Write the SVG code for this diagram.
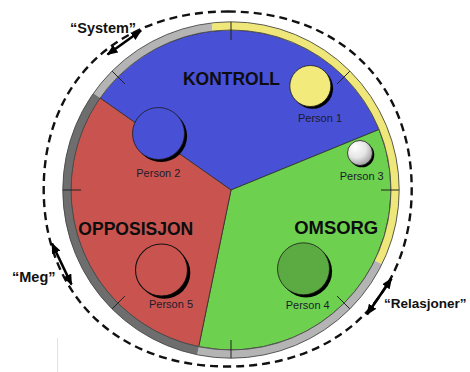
<svg xmlns="http://www.w3.org/2000/svg" width="470" height="372" viewBox="0 0 470 372">
  <defs>
    <style>
      .sector { stroke:#2b2b2b; stroke-width:0.8; stroke-linejoin:round; }
      .ring { fill:none; stroke-width:8.4; }
      .ring-edge { fill:none; stroke:#4a4a4a; stroke-width:0.9; }
      .tick { stroke:#222; stroke-width:1; }
      .shadow { fill:#000; }
      .person { stroke:#1a1a1a; stroke-width:0.8; }
      .sec-label { font-family:"Liberation Sans", Arial, sans-serif; font-weight:bold; font-size:18.5px; fill:#0d0d0d; text-anchor:middle; }
      .p-label { font-family:"Liberation Sans", Arial, sans-serif; font-size:11px; fill:#1b1b2b; text-anchor:middle; }
      .out-label { font-family:"Liberation Sans", Arial, sans-serif; font-weight:bold; font-size:14.5px; fill:#111; }
      .dashed { fill:none; stroke:#111; stroke-width:2.4; stroke-dasharray:8 5; }
      .arrow { fill:none; stroke:#000; stroke-width:2.6; marker-start:url(#head); marker-end:url(#head); }
    </style>
    <marker id="head" markerUnits="userSpaceOnUse" markerWidth="11" markerHeight="9" viewBox="0 0 11 9" refX="10" refY="4.5" orient="auto-start-reverse">
      <path d="M0,0 L11,4.5 L0,9 Z" fill="#000"/>
    </marker>
    <radialGradient id="p3grad" cx="0.4" cy="0.35" r="0.7" fx="0.3" fy="0.25">
      <stop offset="0" stop-color="#ffffff"/>
      <stop offset="0.55" stop-color="#e6e6e6"/>
      <stop offset="1" stop-color="#9a9a9a"/>
    </radialGradient>
  </defs>

  <rect width="470" height="372" fill="#ffffff"/>

  <!-- outer dashed boundary -->
  <g id="boundary">
    <path class="dashed" d="M 227.7 11.5 C 338.1 11.5 411.7 82.5 411.7 189 C 411.7 295.5 338.1 366.5 227.7 366.5 C 117.3 366.5 43.7 295.5 43.7 189 C 43.7 82.5 117.3 11.5 227.7 11.5 Z"/>
  </g>

  <!-- sectors -->
  <g id="kontroll">
    <path class="sector" fill="#4850D6" d="M 231 190 L 100 98 A 160 160 0 0 1 379.1 129.5 Z"/>
    <text class="sec-label" x="231.5" y="85" textLength="97" lengthAdjust="spacingAndGlyphs">KONTROLL</text>
  </g>
  <g id="omsorg">
    <path class="sector" fill="#6DD14F" d="M 231 190 L 379.1 129.5 A 160 160 0 0 1 198.7 346.7 Z"/>
    <text class="sec-label" x="336.2" y="234.3" textLength="84" lengthAdjust="spacingAndGlyphs">OMSORG</text>
  </g>
  <g id="opposisjon">
    <path class="sector" fill="#C9544F" d="M 231 190 L 198.7 346.7 A 160 160 0 0 1 100 98 Z"/>
    <text class="sec-label" x="135.8" y="235" textLength="115" lengthAdjust="spacingAndGlyphs">OPPOSISJON</text>
  </g>

  <!-- ring -->
  <g id="ring">
    <path class="ring" stroke="#B4B4B4" d="M 96.8 95.7 A 164 164 0 0 1 212.2 27.1"/>
    <path class="ring" stroke="#F0E77A" d="M 212.2 27.1 A 164 164 0 0 1 378.2 262.4"/>
    <path class="ring" stroke="#B4B4B4" d="M 378.2 262.4 A 164 164 0 0 1 198.0 350.7"/>
    <path class="ring" stroke="#6E6E6E" d="M 198.0 350.7 A 164 164 0 0 1 96.8 95.7"/>
    <circle class="ring-edge" cx="231" cy="190" r="168.2"/>
    <circle class="ring-edge" cx="231" cy="190" r="160"/>
    <line class="tick" x1="381" y1="190" x2="399" y2="190"/>
    <line class="tick" x1="337.1" y1="296.1" x2="349.8" y2="308.8"/>
    <line class="tick" x1="231" y1="340" x2="231" y2="358"/>
    <line class="tick" x1="124.9" y1="296.1" x2="112.2" y2="308.8"/>
    <line class="tick" x1="81" y1="190" x2="63" y2="190"/>
    <line class="tick" x1="124.9" y1="83.9" x2="112.2" y2="71.2"/>
    <line class="tick" x1="231" y1="40" x2="231" y2="22"/>
    <line class="tick" x1="337.1" y1="83.9" x2="349.8" y2="71.2"/>
  </g>

  <!-- persons -->
  <g id="person1">
    <circle class="shadow" cx="312.6" cy="88.3" r="20.5"/>
    <circle class="person" fill="#F2EA7A" cx="310.3" cy="86" r="20.5"/>
    <text class="p-label" x="320" y="121.5">Person 1</text>
  </g>
  <g id="person2">
    <circle class="shadow" cx="161.1" cy="136.1" r="26"/>
    <circle class="person" fill="#4850D6" cx="158.5" cy="133.5" r="26"/>
    <text class="p-label" x="158.3" y="176.7">Person 2</text>
  </g>
  <g id="person3">
    <circle class="shadow" cx="361.8" cy="154.8" r="12.5"/>
    <circle class="person" fill="url(#p3grad)" cx="360" cy="153" r="12.5"/>
    <text class="p-label" x="361.7" y="180">Person 3</text>
  </g>
  <g id="person4">
    <circle class="shadow" cx="306.1" cy="271.4" r="26"/>
    <circle class="person" fill="#5BAA42" cx="303.5" cy="268.8" r="26"/>
    <text class="p-label" x="307.7" y="309">Person 4</text>
  </g>
  <g id="person5">
    <circle class="shadow" cx="164.3" cy="272.8" r="26"/>
    <circle fill="#C9544F" stroke="#111" stroke-width="1.1" cx="161.5" cy="270" r="26"/>
    <text class="p-label" x="171" y="308.3">Person 5</text>
  </g>

  <!-- outside labels -->
  <g id="system">
    <text class="out-label" x="70" y="33.3">“System”</text>
  </g>
  <g id="meg">
    <text class="out-label" x="12" y="282">“Meg”</text>
  </g>
  <g id="relasjoner">
    <text class="out-label" x="384" y="308" style="font-size:13.5px">“Relasjoner”</text>
  </g>

  <!-- connectors -->
  <g id="connectors">
    <path class="arrow" d="M 107.5 54.5 L 141 30.5"/>
    <path class="arrow" d="M 52 243.5 L 71.5 284.5"/>
    <path class="arrow" d="M 391.5 278.5 L 367 314.5"/>
  </g>

  <line x1="57.5" y1="338" x2="57.5" y2="372" stroke="#e2e2e2" stroke-width="1"/>
</svg>
